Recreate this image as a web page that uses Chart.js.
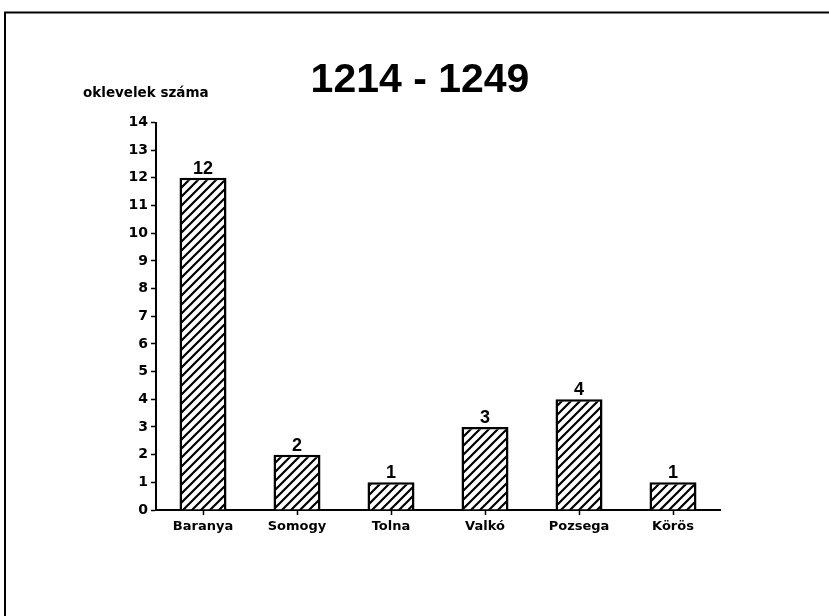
<!DOCTYPE html>
<html>
<head>
<meta charset="utf-8">
<script src="https://cdn.jsdelivr.net/npm/chart.js@4/dist/chart.umd.min.js"></script>
<style>
  html, body { margin: 0; padding: 0; background: #fff; }
  #wrap { position: relative; width: 829px; height: 616px; }
</style>
</head>
<body>
<div id="wrap"><canvas id="c" width="829" height="616"></canvas></div>
<script>
// Number of charters per county, 1214-1249
const categories = ['Baranya', 'Somogy', 'Tolna', 'Valkó', 'Pozsega', 'Körös'];
const counts = [12, 2, 1, 3, 4, 1];
const chartTitle = '1214 - 1249';
const axisCaption = 'oklevelek száma';
const yMin = 0;
const yMax = 14;
const yStep = 1;

const canvas = document.getElementById('c');
const ctx = canvas.getContext('2d');

// Diagonal "/" hatching used as the bar fill
function makeHatch(target) {
  const s = 9;
  const tile = document.createElement('canvas');
  tile.width = s; tile.height = s;
  const g = tile.getContext('2d');
  g.fillStyle = '#fff';
  g.fillRect(0, 0, s, s);
  g.strokeStyle = '#000';
  g.lineWidth = 2.2;
  g.beginPath();
  g.moveTo(-2, s + 2); g.lineTo(s + 2, -2);
  g.moveTo(-2, 2); g.lineTo(2, -2);
  g.moveTo(s - 2, s + 2); g.lineTo(s + 2, s - 2);
  g.stroke();
  return target.createPattern(tile, 'repeat');
}

// Frame, heading, axis caption and value labels
const decorations = {
  id: 'decorations',
  afterDraw(chart) {
    const c = chart.ctx;
    c.save();
    // page frame (top and left edges)
    c.strokeStyle = '#000';
    c.lineWidth = 2;
    c.beginPath();
    c.moveTo(5, 616);
    c.lineTo(5, 12.5);
    c.lineTo(829, 12.5);
    c.stroke();

    c.fillStyle = '#000';
    // heading
    c.font = 'bold 41px "Liberation Sans", Arial, sans-serif';
    c.textAlign = 'center';
    c.textBaseline = 'alphabetic';
    c.fillText(chartTitle, 420, 92);

    // y-axis caption
    c.font = 'bold 13.5px "DejaVu Sans", sans-serif';
    c.textAlign = 'left';
    c.fillText(axisCaption, 83, 97);

    // value labels above each bar
    c.font = 'bold 18px "Liberation Sans", Arial, sans-serif';
    c.textAlign = 'center';
    const meta = chart.getDatasetMeta(0);
    meta.data.forEach((bar, i) => {
      c.fillText(String(counts[i]), bar.x, bar.y - 4);
    });
    c.restore();
  }
};

const tickFont = { family: '"DejaVu Sans", sans-serif', weight: 'bold' };

new Chart(ctx, {
  type: 'bar',
  data: {
    labels: categories,
    datasets: [{
      data: counts,
      backgroundColor: makeHatch(ctx),
      borderColor: '#000',
      borderWidth: 2.5,
      barPercentage: 0.5,
      categoryPercentage: 1.0
    }]
  },
  options: {
    responsive: false,
    animation: false,
    devicePixelRatio: 1,
    layout: { padding: { top: 122.5, right: 109, bottom: 0, left: 0 } },
    plugins: {
      legend: { display: false },
      tooltip: { enabled: false },
      title: { display: false }
    },
    scales: {
      x: {
        grid: { display: true, drawOnChartArea: false, offset: false, tickLength: 5, tickWidth: 1.5, tickColor: '#000' },
        border: { display: true, color: '#000', width: 2 },
        ticks: { color: '#000', font: { ...tickFont, size: 13 }, padding: 4, maxRotation: 0, autoSkip: false },
        afterFit(scale) { scale.height = 106; }
      },
      y: {
        min: yMin,
        max: yMax,
        grid: { display: true, drawOnChartArea: false, tickLength: 5, tickWidth: 1.5, tickColor: '#000' },
        border: { display: true, color: '#000', width: 2 },
        ticks: { stepSize: yStep, color: '#000', font: { ...tickFont, size: 14 }, padding: 3 },
        afterFit(scale) { scale.width = 156; }
      }
    }
  },
  plugins: [decorations]
});
</script>
</body>
</html>
